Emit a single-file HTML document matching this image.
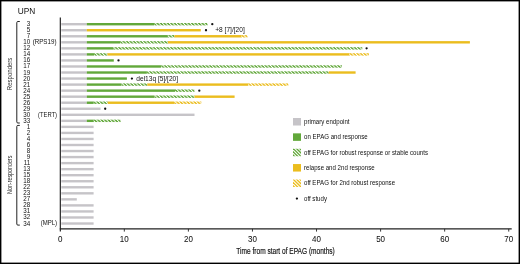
<!DOCTYPE html><html><head><meta charset="utf-8"><style>
html,body{margin:0;padding:0;background:#fff;}
body{width:520px;height:264px;overflow:hidden;position:relative;}
svg{position:absolute;left:0;top:0;will-change:transform;}
text{font-family:"Liberation Sans",sans-serif;fill:#111;} .b{}
</style></head><body>
<svg width="520" height="264" viewBox="0 0 520 264">
<defs>
<pattern id="hg" width="2.45" height="2.45" patternUnits="userSpaceOnUse" patternTransform="rotate(45)"><rect width="2.45" height="2.45" fill="#fff"/><rect width="2.45" height="1.55" fill="#62a83a"/></pattern>
<pattern id="hy" width="2.45" height="2.45" patternUnits="userSpaceOnUse" patternTransform="rotate(45)"><rect width="2.45" height="2.45" fill="#fff"/><rect width="2.45" height="1.55" fill="#ebbd1e"/></pattern>
<pattern id="lg" width="2.3" height="2.3" patternUnits="userSpaceOnUse" patternTransform="rotate(45)"><rect width="2.3" height="2.3" fill="#fff"/><rect width="2.3" height="1.5" fill="#62a83a"/></pattern>
<pattern id="ly" width="2.3" height="2.3" patternUnits="userSpaceOnUse" patternTransform="rotate(45)"><rect width="2.3" height="2.3" fill="#fff"/><rect width="2.3" height="1.5" fill="#ebbd1e"/></pattern>
</defs>
<rect x="61.3" y="23.00" width="25.50" height="2.4" fill="#c6c4c8"/>
<rect x="86.8" y="23.00" width="67.50" height="2.4" fill="#62a83a"/>
<rect x="154.3" y="23.00" width="53.20" height="2.4" fill="url(#hg)"/>
<rect x="61.3" y="29.04" width="25.50" height="2.4" fill="#c6c4c8"/>
<rect x="86.8" y="29.04" width="114.00" height="2.4" fill="#ebbd1e"/>
<rect x="61.3" y="35.08" width="25.50" height="2.4" fill="#c6c4c8"/>
<rect x="86.8" y="35.08" width="81.10" height="2.4" fill="#62a83a"/>
<rect x="167.9" y="35.08" width="6.50" height="2.4" fill="url(#hg)"/>
<rect x="174.4" y="35.08" width="67.30" height="2.4" fill="#ebbd1e"/>
<rect x="241.7" y="35.08" width="5.80" height="2.4" fill="url(#hy)"/>
<rect x="61.3" y="41.12" width="25.50" height="2.4" fill="#c6c4c8"/>
<rect x="86.8" y="41.12" width="33.50" height="2.4" fill="#62a83a"/>
<rect x="120.3" y="41.12" width="47.60" height="2.4" fill="url(#hg)"/>
<rect x="167.9" y="41.12" width="302.00" height="2.4" fill="#ebbd1e"/>
<rect x="61.3" y="47.16" width="25.50" height="2.4" fill="#c6c4c8"/>
<rect x="86.8" y="47.16" width="26.70" height="2.4" fill="#62a83a"/>
<rect x="113.5" y="47.16" width="248.80" height="2.4" fill="url(#hg)"/>
<rect x="61.3" y="53.20" width="25.50" height="2.4" fill="#c6c4c8"/>
<rect x="86.8" y="53.20" width="7.40" height="2.4" fill="#62a83a"/>
<rect x="94.2" y="53.20" width="13.20" height="2.4" fill="url(#hg)"/>
<rect x="107.4" y="53.20" width="242.20" height="2.4" fill="#ebbd1e"/>
<rect x="349.6" y="53.20" width="19.30" height="2.4" fill="url(#hy)"/>
<rect x="61.3" y="59.24" width="25.50" height="2.4" fill="#c6c4c8"/>
<rect x="86.8" y="59.24" width="27.00" height="2.4" fill="#62a83a"/>
<rect x="61.3" y="65.28" width="25.50" height="2.4" fill="#c6c4c8"/>
<rect x="86.8" y="65.28" width="74.40" height="2.4" fill="#62a83a"/>
<rect x="161.2" y="65.28" width="180.80" height="2.4" fill="url(#hg)"/>
<rect x="61.3" y="71.32" width="25.50" height="2.4" fill="#c6c4c8"/>
<rect x="86.8" y="71.32" width="60.10" height="2.4" fill="#62a83a"/>
<rect x="146.9" y="71.32" width="181.80" height="2.4" fill="url(#hg)"/>
<rect x="328.7" y="71.32" width="26.90" height="2.4" fill="#ebbd1e"/>
<rect x="61.3" y="77.36" width="25.50" height="2.4" fill="#c6c4c8"/>
<rect x="86.8" y="77.36" width="40.10" height="2.4" fill="#62a83a"/>
<rect x="61.3" y="83.40" width="25.50" height="2.4" fill="#c6c4c8"/>
<rect x="86.8" y="83.40" width="34.70" height="2.4" fill="#62a83a"/>
<rect x="121.5" y="83.40" width="25.80" height="2.4" fill="url(#hg)"/>
<rect x="147.3" y="83.40" width="100.70" height="2.4" fill="#ebbd1e"/>
<rect x="248.0" y="83.40" width="40.30" height="2.4" fill="url(#hy)"/>
<rect x="61.3" y="89.44" width="25.50" height="2.4" fill="#c6c4c8"/>
<rect x="86.8" y="89.44" width="88.20" height="2.4" fill="#62a83a"/>
<rect x="175.0" y="89.44" width="19.50" height="2.4" fill="url(#hg)"/>
<rect x="61.3" y="95.48" width="25.50" height="2.4" fill="#c6c4c8"/>
<rect x="86.8" y="95.48" width="67.70" height="2.4" fill="#62a83a"/>
<rect x="154.5" y="95.48" width="40.00" height="2.4" fill="url(#hg)"/>
<rect x="194.5" y="95.48" width="40.10" height="2.4" fill="#ebbd1e"/>
<rect x="61.3" y="101.52" width="25.50" height="2.4" fill="#c6c4c8"/>
<rect x="86.8" y="101.52" width="7.00" height="2.4" fill="#62a83a"/>
<rect x="93.8" y="101.52" width="13.90" height="2.4" fill="url(#hg)"/>
<rect x="107.7" y="101.52" width="66.50" height="2.4" fill="#ebbd1e"/>
<rect x="174.2" y="101.52" width="27.10" height="2.4" fill="url(#hy)"/>
<rect x="61.3" y="107.56" width="39.20" height="2.4" fill="#c6c4c8"/>
<rect x="61.3" y="113.60" width="133.20" height="2.4" fill="#c6c4c8"/>
<rect x="61.3" y="119.64" width="25.50" height="2.4" fill="#c6c4c8"/>
<rect x="86.8" y="119.64" width="7.00" height="2.4" fill="#62a83a"/>
<rect x="93.8" y="119.64" width="26.80" height="2.4" fill="url(#hg)"/>
<rect x="61.3" y="125.68" width="32.30" height="2.4" fill="#c6c4c8"/>
<rect x="61.3" y="131.72" width="32.30" height="2.4" fill="#c6c4c8"/>
<rect x="61.3" y="137.76" width="32.30" height="2.4" fill="#c6c4c8"/>
<rect x="61.3" y="143.80" width="32.30" height="2.4" fill="#c6c4c8"/>
<rect x="61.3" y="149.84" width="32.30" height="2.4" fill="#c6c4c8"/>
<rect x="61.3" y="155.88" width="32.30" height="2.4" fill="#c6c4c8"/>
<rect x="61.3" y="161.92" width="32.30" height="2.4" fill="#c6c4c8"/>
<rect x="61.3" y="167.96" width="32.30" height="2.4" fill="#c6c4c8"/>
<rect x="61.3" y="174.00" width="32.30" height="2.4" fill="#c6c4c8"/>
<rect x="61.3" y="180.04" width="32.30" height="2.4" fill="#c6c4c8"/>
<rect x="61.3" y="186.08" width="32.30" height="2.4" fill="#c6c4c8"/>
<rect x="61.3" y="192.12" width="32.30" height="2.4" fill="#c6c4c8"/>
<rect x="61.3" y="198.16" width="15.50" height="2.4" fill="#c6c4c8"/>
<rect x="61.3" y="204.20" width="32.30" height="2.4" fill="#c6c4c8"/>
<rect x="61.3" y="210.24" width="32.30" height="2.4" fill="#c6c4c8"/>
<rect x="61.3" y="216.28" width="32.30" height="2.4" fill="#c6c4c8"/>
<rect x="61.3" y="222.32" width="32.30" height="2.4" fill="#c6c4c8"/>
<circle cx="212.3" cy="24.20" r="1.15" fill="#111"/>
<circle cx="206.0" cy="30.24" r="1.15" fill="#111"/>
<circle cx="366.6" cy="48.36" r="1.15" fill="#111"/>
<circle cx="118.5" cy="60.44" r="1.15" fill="#111"/>
<circle cx="131.9" cy="78.56" r="1.15" fill="#111"/>
<circle cx="199.3" cy="90.64" r="1.15" fill="#111"/>
<circle cx="105.2" cy="108.76" r="1.15" fill="#111"/>
<line x1="60.3" y1="17.5" x2="60.3" y2="231.6" stroke="#111" stroke-width="1.1"/>
<line x1="59.8" y1="228.9" x2="511.7" y2="228.9" stroke="#222" stroke-width="1.4"/>
<line x1="124.32" y1="228.9" x2="124.32" y2="231.6" stroke="#222" stroke-width="0.9"/>
<line x1="188.39" y1="228.9" x2="188.39" y2="231.6" stroke="#222" stroke-width="0.9"/>
<line x1="252.46" y1="228.9" x2="252.46" y2="231.6" stroke="#222" stroke-width="0.9"/>
<line x1="316.53" y1="228.9" x2="316.53" y2="231.6" stroke="#222" stroke-width="0.9"/>
<line x1="380.60" y1="228.9" x2="380.60" y2="231.6" stroke="#222" stroke-width="0.9"/>
<line x1="444.67" y1="228.9" x2="444.67" y2="231.6" stroke="#222" stroke-width="0.9"/>
<line x1="508.74" y1="228.9" x2="508.74" y2="231.6" stroke="#222" stroke-width="0.9"/>
<text transform="translate(60.25 241.8) scale(0.9 1)" font-size="8.9" text-anchor="middle" style="stroke:#111;stroke-width:0.05px">0</text>
<text transform="translate(124.32 241.8) scale(0.9 1)" font-size="8.9" text-anchor="middle" style="stroke:#111;stroke-width:0.05px">10</text>
<text transform="translate(188.39 241.8) scale(0.9 1)" font-size="8.9" text-anchor="middle" style="stroke:#111;stroke-width:0.05px">20</text>
<text transform="translate(252.46 241.8) scale(0.9 1)" font-size="8.9" text-anchor="middle" style="stroke:#111;stroke-width:0.05px">30</text>
<text transform="translate(316.53 241.8) scale(0.9 1)" font-size="8.9" text-anchor="middle" style="stroke:#111;stroke-width:0.05px">40</text>
<text transform="translate(380.60 241.8) scale(0.9 1)" font-size="8.9" text-anchor="middle" style="stroke:#111;stroke-width:0.05px">50</text>
<text transform="translate(444.67 241.8) scale(0.9 1)" font-size="8.9" text-anchor="middle" style="stroke:#111;stroke-width:0.05px">60</text>
<text transform="translate(508.74 241.8) scale(0.9 1)" font-size="8.9" text-anchor="middle" style="stroke:#111;stroke-width:0.05px">70</text>
<text x="236.3" y="254.1" font-size="9.2" textLength="98.5" lengthAdjust="spacingAndGlyphs" style="stroke:#111;stroke-width:0.18px">Time from start of EPAG (months)</text>
<path d="M19.8 21.5 H17.9 Q16.8 21.5 16.8 22.6 V121.9 Q16.8 123.0 17.9 123.0 H19.8" fill="none" stroke="#222" stroke-width="1"/>
<path d="M19.8 125.4 H17.9 Q16.8 125.4 16.8 126.5 V224.0 Q16.8 225.1 17.9 225.1 H19.8" fill="none" stroke="#222" stroke-width="1"/>
<text transform="translate(12.3 90.2) rotate(-90)" font-size="6.5" style="fill:#333" textLength="32.6" lengthAdjust="spacingAndGlyphs">Responders</text>
<text transform="translate(12.3 193.9) rotate(-90)" font-size="6.5" style="fill:#333" textLength="38.2" lengthAdjust="spacingAndGlyphs">Non-responders</text>
<text x="17.7" y="14.3" font-size="8.8" textLength="17.5" lengthAdjust="spacingAndGlyphs">UPN</text>
<text transform="translate(30.3 26.20) scale(0.96 1)" font-size="6.5" text-anchor="end" class="b">3</text>
<text transform="translate(30.3 32.24) scale(0.96 1)" font-size="6.5" text-anchor="end" class="b">5</text>
<text transform="translate(30.3 38.28) scale(0.96 1)" font-size="6.5" text-anchor="end" class="b">7</text>
<text transform="translate(30.3 44.32) scale(0.96 1)" font-size="6.5" text-anchor="end" class="b">10</text>
<text transform="translate(30.3 50.36) scale(0.96 1)" font-size="6.5" text-anchor="end" class="b">12</text>
<text transform="translate(30.3 56.40) scale(0.96 1)" font-size="6.5" text-anchor="end" class="b">14</text>
<text transform="translate(30.3 62.44) scale(0.96 1)" font-size="6.5" text-anchor="end" class="b">16</text>
<text transform="translate(30.3 68.48) scale(0.96 1)" font-size="6.5" text-anchor="end" class="b">17</text>
<text transform="translate(30.3 74.52) scale(0.96 1)" font-size="6.5" text-anchor="end" class="b">19</text>
<text transform="translate(30.3 80.56) scale(0.96 1)" font-size="6.5" text-anchor="end" class="b">20</text>
<text transform="translate(30.3 86.60) scale(0.96 1)" font-size="6.5" text-anchor="end" class="b">21</text>
<text transform="translate(30.3 92.64) scale(0.96 1)" font-size="6.5" text-anchor="end" class="b">24</text>
<text transform="translate(30.3 98.68) scale(0.96 1)" font-size="6.5" text-anchor="end" class="b">25</text>
<text transform="translate(30.3 104.72) scale(0.96 1)" font-size="6.5" text-anchor="end" class="b">26</text>
<text transform="translate(30.3 110.76) scale(0.96 1)" font-size="6.5" text-anchor="end" class="b">29</text>
<text transform="translate(30.3 116.80) scale(0.96 1)" font-size="6.5" text-anchor="end" class="b">30</text>
<text transform="translate(30.3 122.84) scale(0.96 1)" font-size="6.5" text-anchor="end" class="b">33</text>
<text transform="translate(30.3 128.88) scale(0.96 1)" font-size="6.5" text-anchor="end" class="b">1</text>
<text transform="translate(30.3 134.92) scale(0.96 1)" font-size="6.5" text-anchor="end" class="b">2</text>
<text transform="translate(30.3 140.96) scale(0.96 1)" font-size="6.5" text-anchor="end" class="b">4</text>
<text transform="translate(30.3 147.00) scale(0.96 1)" font-size="6.5" text-anchor="end" class="b">6</text>
<text transform="translate(30.3 153.04) scale(0.96 1)" font-size="6.5" text-anchor="end" class="b">8</text>
<text transform="translate(30.3 159.08) scale(0.96 1)" font-size="6.5" text-anchor="end" class="b">9</text>
<text transform="translate(30.3 165.12) scale(0.96 1)" font-size="6.5" text-anchor="end" class="b">11</text>
<text transform="translate(30.3 171.16) scale(0.96 1)" font-size="6.5" text-anchor="end" class="b">13</text>
<text transform="translate(30.3 177.20) scale(0.96 1)" font-size="6.5" text-anchor="end" class="b">15</text>
<text transform="translate(30.3 183.24) scale(0.96 1)" font-size="6.5" text-anchor="end" class="b">18</text>
<text transform="translate(30.3 189.28) scale(0.96 1)" font-size="6.5" text-anchor="end" class="b">22</text>
<text transform="translate(30.3 195.32) scale(0.96 1)" font-size="6.5" text-anchor="end" class="b">23</text>
<text transform="translate(30.3 201.36) scale(0.96 1)" font-size="6.5" text-anchor="end" class="b">27</text>
<text transform="translate(30.3 207.40) scale(0.96 1)" font-size="6.5" text-anchor="end" class="b">28</text>
<text transform="translate(30.3 213.44) scale(0.96 1)" font-size="6.5" text-anchor="end" class="b">31</text>
<text transform="translate(30.3 219.48) scale(0.96 1)" font-size="6.5" text-anchor="end" class="b">32</text>
<text transform="translate(30.3 225.52) scale(0.96 1)" font-size="6.5" text-anchor="end" class="b">34</text>
<text transform="translate(56.5 44.12) scale(0.93 1)" font-size="6.7" text-anchor="end">(RPS19)</text>
<text transform="translate(57 116.60) scale(0.87 1)" font-size="6.7" text-anchor="end">(TERT)</text>
<text transform="translate(57.1 225.32) scale(0.9 1)" font-size="6.7" text-anchor="end">(MPL)</text>
<text transform="translate(215.2 32.34)" font-size="6.6">+8 [7]/[20]</text>
<text transform="translate(136.3 80.76)" font-size="6.6">del13q [5]/[20]</text>
<rect x="293" y="118.00" width="8" height="7.5" fill="#c6c4c8"/>
<text transform="translate(304 123.85) scale(0.955 1)" font-size="6.4">primary endpoint</text>
<rect x="293" y="133.35" width="8" height="7.5" fill="#62a83a"/>
<text transform="translate(304 139.20) scale(0.955 1)" font-size="6.4">on EPAG and response</text>
<clipPath id="cp2"><rect x="293" y="148.70" width="8" height="7.5"/></clipPath>
<g clip-path="url(#cp2)">
<line x1="281.45" y1="146.70" x2="293.45" y2="158.70" stroke="#62a83a" stroke-width="1.35"/>
<line x1="284.75" y1="146.70" x2="296.75" y2="158.70" stroke="#62a83a" stroke-width="1.35"/>
<line x1="288.05" y1="146.70" x2="300.05" y2="158.70" stroke="#62a83a" stroke-width="1.35"/>
<line x1="291.35" y1="146.70" x2="303.35" y2="158.70" stroke="#62a83a" stroke-width="1.35"/>
<line x1="294.65" y1="146.70" x2="306.65" y2="158.70" stroke="#62a83a" stroke-width="1.35"/>
<line x1="297.95" y1="146.70" x2="309.95" y2="158.70" stroke="#62a83a" stroke-width="1.35"/>
<line x1="301.25" y1="146.70" x2="313.25" y2="158.70" stroke="#62a83a" stroke-width="1.35"/>
</g>
<text transform="translate(304 154.55) scale(0.955 1)" font-size="6.4">off EPAG for robust response or stable counts</text>
<rect x="293" y="164.05" width="8" height="7.5" fill="#ebbd1e"/>
<text transform="translate(304 169.90) scale(0.955 1)" font-size="6.4">relapse and 2nd response</text>
<clipPath id="cp4"><rect x="293" y="179.40" width="8" height="7.5"/></clipPath>
<g clip-path="url(#cp4)">
<line x1="281.45" y1="177.40" x2="293.45" y2="189.40" stroke="#ebbd1e" stroke-width="1.35"/>
<line x1="284.75" y1="177.40" x2="296.75" y2="189.40" stroke="#ebbd1e" stroke-width="1.35"/>
<line x1="288.05" y1="177.40" x2="300.05" y2="189.40" stroke="#ebbd1e" stroke-width="1.35"/>
<line x1="291.35" y1="177.40" x2="303.35" y2="189.40" stroke="#ebbd1e" stroke-width="1.35"/>
<line x1="294.65" y1="177.40" x2="306.65" y2="189.40" stroke="#ebbd1e" stroke-width="1.35"/>
<line x1="297.95" y1="177.40" x2="309.95" y2="189.40" stroke="#ebbd1e" stroke-width="1.35"/>
<line x1="301.25" y1="177.40" x2="313.25" y2="189.40" stroke="#ebbd1e" stroke-width="1.35"/>
</g>
<text transform="translate(304 185.25) scale(0.955 1)" font-size="6.4">off EPAG for 2nd robust response</text>
<circle cx="296.9" cy="198.6" r="1.15" fill="#111"/>
<text transform="translate(304 200.5) scale(0.955 1)" font-size="6.4">off study</text>
<rect x="0.7" y="0.7" width="518.6" height="262.6" fill="none" stroke="#000" stroke-width="1.4"/>
</svg></body></html>
